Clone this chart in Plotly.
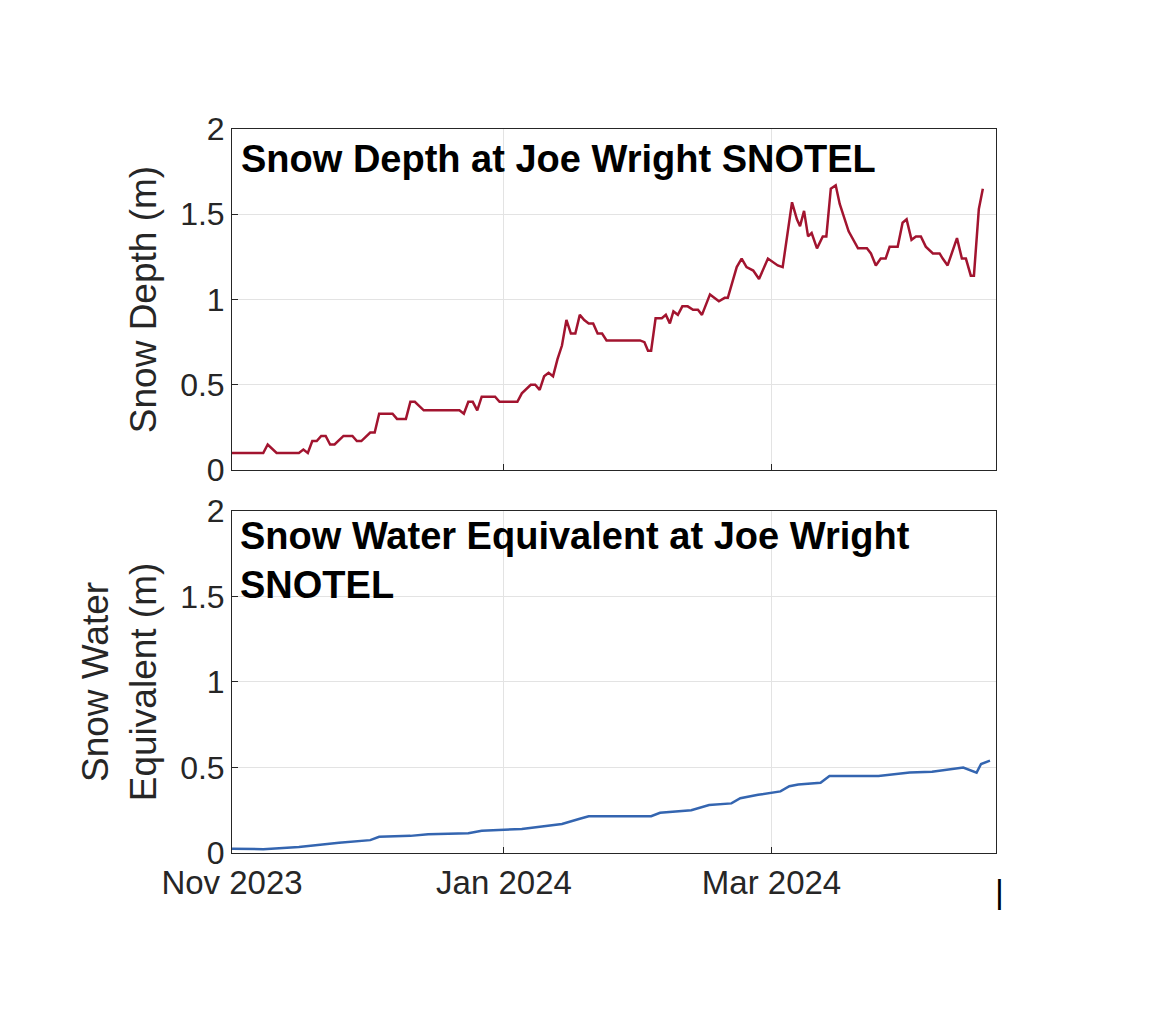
import pandas as pd
import plotly.graph_objects as go

start = pd.Timestamp("2023-11-01")

# Snow depth: day offsets from 1 Nov 2023 and values (m)
depth_days = [0, 7, 8, 10, 15, 16, 17, 18, 19, 20,
              21, 22, 23, 25, 27, 28, 29, 31, 32, 33,
              36, 37, 39, 40, 41, 43, 51, 52, 53, 54,
              55, 56, 59, 60, 64, 65, 67, 68, 69, 70,
              71, 72, 73, 74, 75, 76, 77, 78, 79, 80,
              81, 82, 83, 84, 91.5, 92.5, 93.3, 94, 95, 96.4,
              97.3, 98.2, 99, 100, 101, 102.2, 103.4, 104.5, 105.4, 107.2,
              109.2, 110.5, 111.2, 113.2, 114.3, 115.4, 116.9, 118.2, 120.2, 122.4,
              123.5, 124.2, 125.6, 126.7, 127.4, 128.3, 129.2, 130, 131.2, 132.5,
              133.3, 134.3, 135.4, 136.3, 138.3, 140.4, 142.4, 143.3, 144.4, 145.5,
              146.6, 147.5, 149.3, 150.4, 151.3, 152.4, 153.4, 154.5, 155.6, 157.2,
              158.7, 159.4, 160.5, 162.6, 163.7, 164.6, 165.7, 166.4, 167.5, 168.4]
depth_vals = [0.10, 0.10, 0.15, 0.10, 0.10, 0.12, 0.10, 0.17, 0.17, 0.20,
              0.20, 0.15, 0.15, 0.20, 0.20, 0.17, 0.17, 0.22, 0.22, 0.33,
              0.33, 0.30, 0.30, 0.40, 0.40, 0.35, 0.35, 0.33, 0.40, 0.40,
              0.35, 0.43, 0.43, 0.40, 0.40, 0.45, 0.50, 0.50, 0.47, 0.55,
              0.57, 0.55, 0.65, 0.73, 0.88, 0.80, 0.80, 0.91, 0.88, 0.86,
              0.86, 0.80, 0.80, 0.76, 0.76, 0.75, 0.70, 0.70, 0.89, 0.89,
              0.91, 0.86, 0.93, 0.91, 0.96, 0.96, 0.94, 0.94, 0.91, 1.03,
              0.99, 1.01, 1.01, 1.19, 1.24, 1.19, 1.17, 1.12, 1.24, 1.20,
              1.19, 1.31, 1.57, 1.47, 1.43, 1.52, 1.37, 1.39, 1.30, 1.37,
              1.37, 1.65, 1.67, 1.56, 1.40, 1.30, 1.30, 1.27, 1.20, 1.24,
              1.24, 1.31, 1.31, 1.45, 1.47, 1.35, 1.37, 1.37, 1.31, 1.27,
              1.27, 1.24, 1.20, 1.36, 1.24, 1.24, 1.14, 1.14, 1.53, 1.65]

# Snow water equivalent: day offsets and values (m)
swe_days = [0, 7, 15, 20, 24, 31, 33, 40, 44, 53, 56, 65, 69, 74, 78, 80, 94, 96, 103, 107,
            112, 114, 118, 123, 125, 127, 132, 134, 145, 148, 152, 157, 162, 164, 167, 168, 170]
swe_vals = [0.025, 0.022, 0.035, 0.05, 0.06, 0.075, 0.095, 0.10, 0.11, 0.115, 0.13, 0.14, 0.155,
            0.17, 0.20, 0.215, 0.215, 0.235, 0.25, 0.28, 0.29, 0.32, 0.34, 0.36, 0.39, 0.40,
            0.41, 0.45, 0.45, 0.46, 0.47, 0.475, 0.49, 0.50, 0.47, 0.52, 0.54]

tick_vals = ["2023-11-01", "2024-01-01", "2024-03-01"]
tick_text = ["Nov 2023", "Jan 2024", "Mar 2024"]

d_dates = [start + pd.Timedelta(days=d) for d in depth_days]
s_dates = [start + pd.Timedelta(days=d) for d in swe_days]

fig = go.Figure()
fig.add_trace(go.Scatter(x=d_dates, y=depth_vals, mode="lines",
                         line=dict(color="#A2142F", width=2.5), xaxis="x", yaxis="y"))
fig.add_trace(go.Scatter(x=s_dates, y=swe_vals, mode="lines",
                         line=dict(color="#3465B0", width=2.5), xaxis="x2", yaxis="y2"))

FONT = "Liberation Sans"
xr = ["2023-11-01", "2024-04-20 08:00"]
common_x = dict(range=xr, tickvals=tick_vals, showgrid=True, gridcolor="#E3E3E3",
                showline=True, mirror=True, linecolor="#262626", linewidth=1,
                ticks="inside", ticklen=6, tickcolor="#262626",
                tickfont=dict(size=33, color="#262626", family=FONT))
common_y = dict(range=[0, 2], tickvals=[0, 0.5, 1, 1.5, 2], ticktext=["0", "0.5", "1", "1.5", "2"],
                showgrid=True, gridcolor="#E3E3E3",
                showline=True, mirror=True, linecolor="#262626", linewidth=1,
                ticks="inside", ticklen=6, tickcolor="#262626", zeroline=False,
                tickfont=dict(size=32, color="#262626", family=FONT))

fig.update_layout(
    width=1165, height=1020, showlegend=False,
    paper_bgcolor="white", plot_bgcolor="white",
    margin=dict(l=0, r=0, t=0, b=0, autoexpand=False),
    xaxis=dict(domain=[0.1923, 0.848], anchor="y", showticklabels=False, **common_x),
    yaxis=dict(domain=[0.547, 0.8814], anchor="x",
               title=dict(text="Snow Depth (m)", font=dict(size=37, color="#262626", family=FONT), standoff=12),
               **common_y),
    xaxis2=dict(domain=[0.1923, 0.848], anchor="y2", ticktext=tick_text, **common_x),
    yaxis2=dict(domain=[0.1716, 0.5069], anchor="x2",
                title=dict(text="Snow Water<br>Equivalent (m)", font=dict(size=37, color="#262626", family=FONT), standoff=12),
                **common_y),
    annotations=[
        dict(text="<b>Snow Depth at Joe Wright SNOTEL</b>", xref="paper", yref="paper",
             x=0.198, y=0.852, xanchor="left", yanchor="middle", showarrow=False,
             font=dict(size=38, color="black", family=FONT)),
        dict(text="<b>Snow Water Equivalent at Joe Wright<br>SNOTEL</b>", xref="paper", yref="paper",
             x=0.197, y=0.458, xanchor="left", yanchor="middle", showarrow=False, align="left",
             font=dict(size=38, color="black", family=FONT)),
        dict(text="|", xref="paper", yref="paper", x=0.8515, y=0.134, xanchor="center", yanchor="middle",
             showarrow=False, font=dict(size=34, color="black", family=FONT)),
    ],
)
fig.write_html("out.html")
